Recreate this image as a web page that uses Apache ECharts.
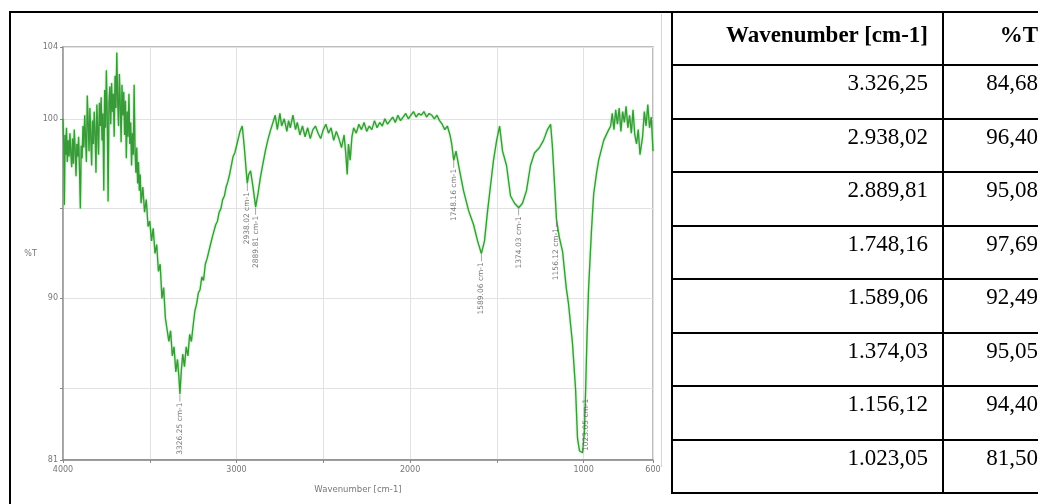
<!DOCTYPE html>
<html>
<head>
<meta charset="utf-8">
<script src="https://cdn.jsdelivr.net/npm/echarts@6/dist/echarts.min.js"></script>
<style>
html,body{margin:0;padding:0;width:1038px;height:504px;overflow:hidden;background:#fff;}
#frame{position:absolute;left:9px;top:11px;width:663px;height:520px;border-left:2px solid #000;border-top:2px solid #000;}
#imgedge{position:absolute;left:661px;top:14px;width:1px;height:453px;background:#d4d4d4;}
#chart{position:absolute;left:0;top:0;width:672px;height:504px;}
#tbl{position:absolute;left:671px;top:11px;width:382px;border-collapse:collapse;table-layout:fixed;font-family:"Liberation Serif","Times New Roman",serif;font-size:23px;color:#000;}
#tbl td,#tbl th{border:2px solid #000;height:53.45px;padding:5px 14px 0 0;vertical-align:top;text-align:right;line-height:23px;box-sizing:border-box;white-space:nowrap;}
#tbl td + td,#tbl th + th{padding-right:15px;}
#tbl th{padding-top:10px;font-weight:bold;}
</style>
</head>
<body>
<div id="frame"></div>
<div id="imgedge"></div>
<div id="chart"></div>
<table id="tbl"><colgroup><col style="width:271px"><col style="width:111px"></colgroup><tbody id="tb"></tbody></table>
<script>
// ---- data ----
const tableHeaders = ['Wavenumber [cm-1]', '%T'];
const peakWavenumbers = [3326.25, 2938.02, 2889.81, 1748.16, 1589.06, 1374.03, 1156.12, 1023.05];
const peakTransmittance = [84.68, 96.40, 95.08, 97.69, 92.49, 95.05, 94.40, 81.50];

const xLabelValues = [4000, 3000, 2000, 1000, 600];
const xTickValues = [4000, 3500, 3000, 2500, 2000, 1500, 1000, 600];
const yLabelValues = [81, 90, 100, 104];
const yTickValues = [81, 85, 90, 95, 100, 104];

const wavenumber = [
4000,3996,3992,3988,3984,3980,3975,3970,3965,3960,3955,3950,3945,3940,3935,3930,3925,3920,3915,3910,3905,3900,3895,3890,3885,3880,3875,3870,3865,3860,3855,3850,3845,3840,3835,3830,3825,3820,3815,3810,3805,3800,3795,3790,3785,3780,3775,3770,3765,3760,3755,3750,3745,3740,3735,3730,3725,3720,3715,3710,3705,3700,3695,3690,3685,3680,3675,3670,3665,3660,3655,3650,3645,3640,3635,3630,3625,3620,3615,3610,3605,3600,3595,3590,3585,3580,3575,3570,3565,3560,3555,3550,
3540,3530,3520,3510,3500,3490,3480,3470,3460,3450,3440,3430,3420,3410,3400,3390,3380,3370,3360,3350,3340,3332,3326.25,3318,3310,3300,3290,3280,3270,3260,3250,3240,3230,3220,3210,3200,3190,3180,3170,3160,3150,3140,3130,3120,3110,3100,3090,3080,3070,3060,3050,3040,3030,3020,3010,3000,2990,2980,2967,2955,2945,2938.02,2930,2919,2905,2889.81,2875,2863,2850,2834,2820,2806,
2790,2777,2765,2750,2740,2725,2710,2700,2690,2675,2660,2650,2635,2620,2605,2590,2575,2560,2545,2530,2515,2500,2485,2470,2455,2440,2425,2410,2395,2380,2370,2362,2355,2345,2335,2325,2310,2295,2280,2265,2250,2235,2220,2205,2190,2175,2160,2145,2130,2115,2100,2085,2070,2055,2040,2025,2010,1995,1980,1965,1950,1935,1920,1905,1890,1875,1860,1845,1830,1815,1800,1785,1770,1760,1748.16,
1735,1720,1692,1663,1634,1611,1589.06,1571,1553,1536,1519,1501,1484,1467,1444,1421,1398,1374.03,1352,1329,1306,1283,1254,1231,1208,1190,1180,1170,1156.12,1140,1121,1100,1087,1064,1046,1035,1023.05,1006,995,988,980,971,955,942,925,913,884,860,844,
835,825,815,805,795,785,775,765,755,745,735,725,715,705,695,685,675,668,660,650,640,630,620,610,600
];
const transmittance = [
100.0,98.6,95.2,99.1,98.0,99.5,97.6,98.8,97.9,99.2,98.1,97.3,98.9,97.5,99.4,98.3,96.8,98.6,97.9,99.0,97.2,95.0,98.5,97.8,99.6,98.4,100.2,98.9,97.6,101.3,99.8,98.2,100.6,99.0,97.4,99.9,98.6,100.4,99.2,97.0,100.8,99.4,98.0,100.9,99.6,101.2,98.8,100.3,96.0,101.6,99.5,102.7,100.1,95.4,100.9,101.8,99.7,102.0,100.4,101.4,99.0,102.4,100.6,103.7,101.0,99.6,102.5,100.8,98.7,101.9,100.2,101.5,99.1,101.0,97.8,100.4,99.0,101.4,98.6,99.8,97.4,99.2,98.0,101.9,98.3,97.0,98.4,96.4,97.6,96.0,96.9,95.3,
96.2,94.8,95.5,94.0,94.3,93.2,93.9,92.5,93.0,91.5,91.9,90.0,90.6,88.9,89.0,87.6,88.2,86.8,87.3,85.9,86.6,85.6,84.68,86.0,86.9,86.2,87.3,86.8,88.0,87.6,88.5,89.3,89.7,90.3,90.5,91.2,91.0,91.9,92.2,92.1,93.0,93.4,93.5,94.1,94.3,94.8,95.0,95.5,95.7,96.2,96.5,96.9,97.4,97.9,98.1,98.5,98.9,99.3,99.6,98.4,97.2,96.40,96.9,97.1,96.2,95.08,95.9,96.7,97.4,98.2,98.8,99.3,
99.8,100.2,99.4,100.3,99.6,100.0,99.3,99.9,99.5,100.2,99.4,99.8,99.1,99.6,99.0,99.5,98.9,99.4,99.6,99.2,98.9,99.4,99.7,99.2,99.5,98.8,99.3,98.9,98.4,99.1,98.0,96.9,98.6,97.7,99.0,99.5,99.2,99.7,99.4,99.8,99.3,99.6,99.4,99.9,99.5,99.8,99.6,100.0,99.7,99.9,100.1,99.8,100.2,99.9,100.1,100.3,100.0,100.2,100.4,100.1,100.3,100.2,100.4,100.1,100.3,100.2,100.0,100.2,99.9,99.7,99.4,99.6,99.1,98.6,97.69,
98.2,97.4,96.0,94.9,94.1,93.2,92.49,93.2,94.9,96.3,97.7,98.8,99.6,98.2,97.4,95.7,95.3,95.05,95.3,96.0,97.4,98.1,98.4,98.8,99.4,99.7,98.5,96.8,94.40,93.4,92.6,90.6,89.7,87.5,84.9,82.2,81.50,81.4,82.6,85.0,88.0,90.6,93.7,95.8,97.0,97.7,98.8,99.3,99.6,
100.3,99.4,100.5,99.7,100.6,99.3,100.4,99.8,100.7,99.5,100.2,99.2,100.5,99.1,98.6,99.4,98.0,97.9,99.0,100.4,99.6,100.8,99.5,100.1,98.2
];

// ---- table ----
function euro(v) {
  const parts = v.toFixed(2).split('.');
  const intPart = parts[0].replace(/\B(?=(\d{3})+(?!\d))/g, '.');
  return intPart + ',' + parts[1];
}
const tb = document.getElementById('tb');
let html = '<tr><th>' + tableHeaders[0] + '</th><th>' + tableHeaders[1] + '</th></tr>';
for (let i = 0; i < peakWavenumbers.length; i++) {
  html += '<tr><td>' + euro(peakWavenumbers[i]) + '</td><td>' + euro(peakTransmittance[i]) + '</td></tr>';
}
tb.innerHTML = html;

// ---- chart ----
const spectrum = wavenumber.map((w, i) => [w, transmittance[i]]);
const peaks = peakWavenumbers.map((w, i) => {
  const item = { value: [w, peakTransmittance[i]] };
  if (i === peakWavenumbers.length - 1) {
    item.symbolOffset = [0, 0];
    item.symbolSize = [0.8, 0];
    item.label = { align: 'left', position: 'bottom', distance: 0, offset: [0, 6] };
  }
  return item;
});

const chart = echarts.init(document.getElementById('chart'), null, { renderer: 'canvas' });
const small = { fontFamily: 'DejaVu Sans', fontSize: 8, color: '#777' };
chart.setOption({
  animation: false,
  grid: { left: 63, right: 19, top: 47, bottom: 44, show: true, borderColor: '#a8a8a8', borderWidth: 1.5, backgroundColor: 'transparent' },
  xAxis: {
    type: 'value', inverse: true, min: 600, max: 4000,
    name: 'Wavenumber [cm-1]', nameLocation: 'middle', nameGap: 25,
    nameTextStyle: Object.assign({}, small, { fontSize: 8.5 }),
    axisLine: { show: true, lineStyle: { color: '#888', width: 1.5 } },
    axisTick: { show: true, length: 3, customValues: xTickValues, lineStyle: { color: '#888' } },
    axisLabel: Object.assign({ customValues: xLabelValues, margin: 6, formatter: v => String(v) }, small),
    splitLine: { show: true, lineStyle: { color: '#e2e2e2', width: 1 } }
  },
  yAxis: {
    type: 'value', min: 81, max: 104,
    name: '%T', nameLocation: 'middle', nameGap: 26, nameRotate: 0,
    nameTextStyle: small,
    axisLine: { show: true, lineStyle: { color: '#999', width: 1.5 } },
    axisTick: { show: true, length: 3, customValues: yTickValues, lineStyle: { color: '#888' } },
    axisLabel: Object.assign({ customValues: yLabelValues, margin: 5, formatter: v => String(v) }, small),
    splitLine: { show: true, lineStyle: { color: '#e2e2e2', width: 1 } }
  },
  series: [
    {
      type: 'line', data: spectrum, showSymbol: false, symbol: 'none',
      lineStyle: { color: '#389a38', width: 1.3, shadowColor: 'rgba(110,215,110,0.9)', shadowBlur: 2 },
      z: 3
    },
    {
      type: 'scatter', data: peaks, symbol: 'rect', symbolSize: [0.8, 7], symbolOffset: [0, 4],
      itemStyle: { color: '#777' },
      label: {
        show: true, position: 'bottom', distance: 1, rotate: 90, align: 'right', verticalAlign: 'middle',
        fontFamily: 'DejaVu Sans', fontSize: 7.5, color: '#555',
        formatter: p => p.value[0].toFixed(2) + ' cm-1'
      },
      z: 4
    }
  ]
});
</script>
</body>
</html>
